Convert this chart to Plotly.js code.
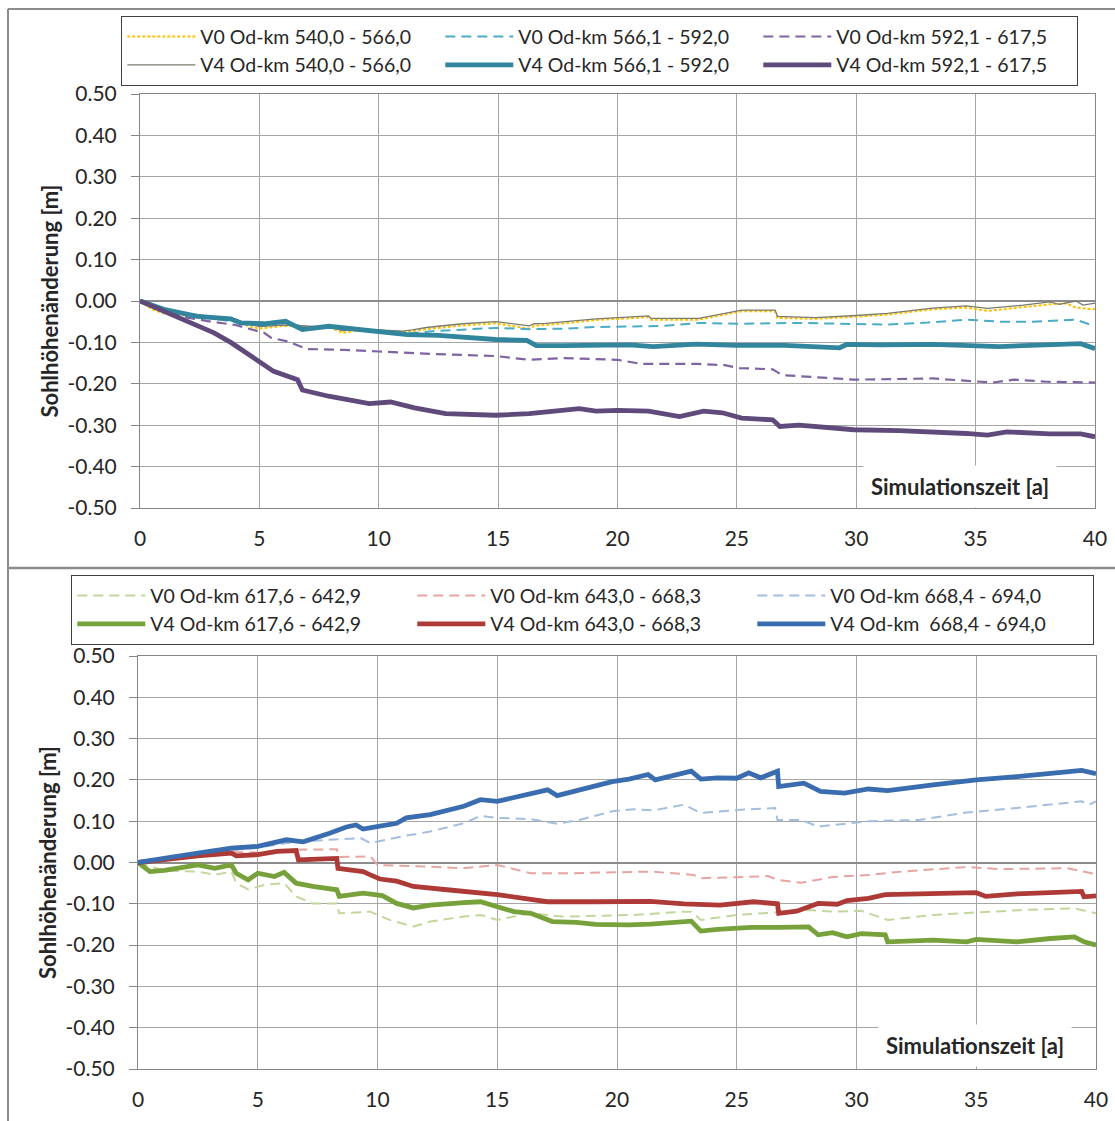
<!DOCTYPE html>
<html>
<head>
<meta charset="utf-8">
<script src="https://cdn.plot.ly/plotly-3.0.1.min.js"></script>
<style>html,body{margin:0;padding:0;background:#fff;}#chart{width:1115px;height:1121px;}</style>
</head>
<body>
<div id="chart"></div>
<script>
// ---------- Tick labels ----------
const xTickVals = [0, 5, 10, 15, 20, 25, 30, 35, 40];
const xTickText = ['0', '5', '10', '15', '20', '25', '30', '35', '40'];
const yTickVals = [-0.5, -0.4, -0.3, -0.2, -0.1, 0, 0.1, 0.2, 0.3, 0.4, 0.5];
const yTickText = ['-0.50', '-0.40', '-0.30', '-0.20', '-0.10', '0.00', '0.10', '0.20', '0.30', '0.40', '0.50'];

// ---------- Series names ----------
const namesTop = ['V0 Od-km 540,0 - 566,0', 'V0 Od-km 566,1 - 592,0', 'V0 Od-km 592,1 - 617,5',
                  'V4 Od-km 540,0 - 566,0', 'V4 Od-km 566,1 - 592,0', 'V4 Od-km 592,1 - 617,5'];
const namesBottom = ['V0 Od-km 617,6 - 642,9', 'V0 Od-km 643,0 - 668,3', 'V0 Od-km 668,4 - 694,0',
                     'V4 Od-km 617,6 - 642,9', 'V4 Od-km 643,0 - 668,3', 'V4 Od-km  668,4 - 694,0'];

// ---------- Top chart data (time [a], change [m]) ----------
const t_v0_540 = [0,0.5,1,2,3,4,4.5,5,6,7,8,8.5,9,10,11,11.4,12,13,13.5,14.9,16.3,16.5,17,19.1,20.5,21.3,21.4,23.4,25.2,26.6,26.7,28.3,30,31.3,33.2,34.6,35.5,37,38.1,38.8,39.2,40];
const v_v0_540 = [0,-0.02,-0.03,-0.035,-0.04,-0.045,-0.06,-0.067,-0.06,-0.062,-0.065,-0.077,-0.072,-0.072,-0.075,-0.073,-0.068,-0.062,-0.059,-0.054,-0.067,-0.06,-0.058,-0.046,-0.041,-0.039,-0.045,-0.045,-0.025,-0.025,-0.041,-0.043,-0.038,-0.033,-0.02,-0.016,-0.024,-0.015,-0.008,-0.006,-0.016,-0.02];

const t_v0_566 = [0,1,2,3,4,5,6,7,8,9,10,11.4,12.5,13.5,14.9,16.3,17.7,19,20.5,22,23.4,25,27.6,29,31.3,33,34.6,36,37.4,39.2,39.8,40];
const v_v0_566 = [0,-0.02,-0.035,-0.042,-0.05,-0.055,-0.052,-0.063,-0.062,-0.068,-0.072,-0.077,-0.072,-0.069,-0.065,-0.068,-0.067,-0.063,-0.061,-0.06,-0.053,-0.055,-0.053,-0.055,-0.057,-0.052,-0.045,-0.05,-0.05,-0.045,-0.057,-0.055];

const t_v0_592 = [0,1,2,3,4,4.7,5.2,5.5,6.2,7,8.5,10,12.2,14.9,16.3,17.7,20,21,23.4,24.5,25.1,26.5,26.9,28.3,29.9,33.2,35.7,36.6,38,40];
const v_v0_592 = [0,-0.025,-0.04,-0.05,-0.058,-0.069,-0.077,-0.089,-0.098,-0.116,-0.118,-0.122,-0.128,-0.133,-0.142,-0.138,-0.142,-0.152,-0.152,-0.155,-0.162,-0.165,-0.179,-0.184,-0.19,-0.187,-0.197,-0.19,-0.195,-0.197];

const t_v4_540 = [0,0.5,1,2,3,4,4.5,5,6,7,8,8.5,9,10,11,11.4,12,13,13.5,14.9,16.3,16.5,17,19.1,20.5,21.3,21.4,23.4,25.2,26.6,26.7,28.3,30,31.3,33.2,34.6,35.5,37,38.1,38.5,39.2,39.5,40];
const v_v4_540 = [0,-0.015,-0.025,-0.03,-0.037,-0.043,-0.055,-0.062,-0.058,-0.06,-0.063,-0.072,-0.068,-0.07,-0.073,-0.07,-0.064,-0.058,-0.055,-0.05,-0.06,-0.055,-0.054,-0.043,-0.038,-0.036,-0.042,-0.042,-0.022,-0.022,-0.037,-0.04,-0.035,-0.03,-0.017,-0.012,-0.018,-0.01,-0.002,-0.008,0.0,-0.01,-0.005];

const t_v4_566 = [0,1,2.4,3.8,4.2,5.2,6.1,6.8,7.9,9.3,10,11.2,12.5,13.5,14.9,16.2,16.6,17.7,20.5,21.5,23.3,25,27,29.3,29.6,31,33.2,36,38,39.4,40];
const v_v4_566 = [0,-0.02,-0.037,-0.043,-0.053,-0.055,-0.049,-0.069,-0.061,-0.069,-0.072,-0.081,-0.083,-0.087,-0.093,-0.095,-0.108,-0.108,-0.106,-0.11,-0.104,-0.107,-0.107,-0.113,-0.105,-0.106,-0.105,-0.11,-0.107,-0.103,-0.115];

const t_v4_592 = [0,1,2.1,3.1,3.8,5,5.6,6.6,6.8,7.9,9.6,10.5,11.5,12.8,14.9,16.3,18.4,19.1,20,21.3,22.6,23.6,24.4,25.2,26.5,26.8,27.6,29.9,31.8,34.6,35.5,36.3,38.1,39.4,40];
const v_v4_592 = [0,-0.024,-0.053,-0.077,-0.1,-0.146,-0.17,-0.19,-0.215,-0.23,-0.248,-0.244,-0.258,-0.272,-0.276,-0.272,-0.26,-0.266,-0.264,-0.266,-0.279,-0.266,-0.27,-0.283,-0.287,-0.303,-0.3,-0.311,-0.313,-0.32,-0.324,-0.316,-0.321,-0.321,-0.328];

// ---------- Bottom chart data ----------
const t_v0_617 = [0,1.1,2.5,3.2,3.9,4.1,4.6,5.3,6.1,6.6,7.3,8.3,8.4,9.7,10.5,11.5,12.2,13.6,14.3,15,15.7,16.4,17.7,20.7,22.8,23.1,23.5,25,26.6,28,29,30.2,31.3,33.2,35,37,39.1,40];
const v_v0_617 = [0,-0.02,-0.022,-0.03,-0.022,-0.05,-0.065,-0.054,-0.05,-0.082,-0.099,-0.099,-0.123,-0.119,-0.139,-0.155,-0.143,-0.131,-0.127,-0.139,-0.131,-0.123,-0.131,-0.127,-0.119,-0.119,-0.139,-0.127,-0.121,-0.115,-0.119,-0.117,-0.139,-0.127,-0.121,-0.115,-0.111,-0.123];

const t_v0_643 = [0,1.1,2.5,3.9,5,6.6,8.3,8.4,9.7,10,12.2,13.6,15,16.4,18,20.5,21.4,23.2,23.5,26.3,26.7,27.7,29,30.5,31.9,34.6,36,38.8,39.9,40];
const v_v0_643 = [0,0.01,0.018,0.025,0.024,0.031,0.032,0.013,0.015,-0.006,-0.01,-0.014,-0.006,-0.026,-0.026,-0.024,-0.022,-0.03,-0.038,-0.033,-0.042,-0.049,-0.035,-0.03,-0.022,-0.011,-0.016,-0.014,-0.027,-0.025];

const t_v0_668 = [0,1.1,2.5,3.9,5,6.2,8,9.3,9.7,11,12.2,13.6,14.3,15,16.4,17.5,18.5,19.8,20.7,21.5,22.8,23.5,25,26.6,26.7,27.7,28.4,30.5,32.6,34.6,36.7,38,39.4,39.7,40];
const v_v0_668 = [0,0.01,0.02,0.03,0.036,0.047,0.055,0.059,0.047,0.063,0.075,0.095,0.113,0.108,0.105,0.094,0.104,0.124,0.129,0.126,0.14,0.12,0.127,0.132,0.103,0.103,0.087,0.1,0.103,0.121,0.132,0.14,0.148,0.14,0.148];

const t_v4_617 = [0,0.5,1.1,2.5,3.2,3.9,4.1,4.6,5,5.7,6.1,6.6,7.3,8.3,8.4,9.4,10.2,10.8,11.5,12.2,13.6,14.3,15,15.7,16.4,17.3,18.3,19.1,20.5,21.4,23.1,23.5,24.2,25.6,26.7,28,28.4,29,29.6,30.2,31.2,31.3,33.2,34.6,35,36.7,38.1,39.1,39.5,40];
const v_v4_617 = [0,-0.022,-0.019,-0.006,-0.014,-0.006,-0.026,-0.042,-0.026,-0.034,-0.024,-0.05,-0.058,-0.066,-0.082,-0.074,-0.08,-0.099,-0.11,-0.103,-0.097,-0.095,-0.107,-0.119,-0.123,-0.143,-0.145,-0.15,-0.151,-0.149,-0.142,-0.166,-0.162,-0.157,-0.157,-0.156,-0.175,-0.17,-0.18,-0.172,-0.175,-0.192,-0.188,-0.192,-0.186,-0.192,-0.184,-0.18,-0.192,-0.2];

const t_v4_643 = [0,1.1,2.5,3.9,4.1,5,5.8,6.6,6.7,7.5,8.3,8.35,9.4,9.7,10.1,10.8,11.5,12.9,14.3,15,16.4,17.1,19.1,21.4,22.8,24.3,25.7,26.7,26.75,27.5,28.4,29.2,29.6,30.5,31.2,33.2,35,35.4,36.7,39.4,39.5,40];
const v_v4_643 = [0,0.008,0.016,0.023,0.016,0.019,0.027,0.029,0.006,0.008,0.01,-0.014,-0.022,-0.03,-0.04,-0.045,-0.058,-0.066,-0.073,-0.078,-0.089,-0.095,-0.095,-0.094,-0.1,-0.103,-0.095,-0.1,-0.123,-0.118,-0.099,-0.101,-0.092,-0.087,-0.078,-0.076,-0.073,-0.082,-0.076,-0.07,-0.083,-0.081];

const t_v4_668 = [0,1.1,2.5,3.9,5,6.2,6.9,8,8.7,9.1,9.4,10.1,10.8,11.2,12.2,13.6,14.3,15,16.4,17.1,17.5,19.1,19.8,20.5,21.3,21.6,23.1,23.5,24.2,25,25.5,26,26.7,26.75,27.8,28.5,29.5,30.5,31.3,33.2,35,36.7,38.1,39.4,40];
const v_v4_668 = [0,0.011,0.023,0.035,0.039,0.055,0.05,0.071,0.086,0.091,0.081,0.088,0.095,0.108,0.116,0.136,0.152,0.148,0.168,0.176,0.162,0.184,0.196,0.202,0.213,0.2,0.221,0.202,0.205,0.204,0.217,0.205,0.221,0.184,0.192,0.172,0.168,0.178,0.174,0.188,0.2,0.208,0.217,0.223,0.215];

// ---------- Styling ----------
const FONT = 'Lato, "Open Sans", sans-serif';
const TXT = '#262626';
const GRID = '#a6a6a6';
const AXL = '#868686';

function tr(x, y, name, color, width, dash, xa, ya, legend) {
  return { type: 'scatter', mode: 'lines', x: x, y: y, name: name,
    line: { color: color, width: width, dash: dash },
    xaxis: xa, yaxis: ya, legend: legend, hoverinfo: 'skip' };
}

const data = [
  tr(t_v0_540, v_v0_540, namesTop[0], '#FFC000', 2, '3px,2px', 'x', 'y', 'legend'),
  tr(t_v0_566, v_v0_566, namesTop[1], '#4BACC6', 2, '10px,6px', 'x', 'y', 'legend'),
  tr(t_v0_592, v_v0_592, namesTop[2], '#8064A2', 2.2, '10px,6px', 'x', 'y', 'legend'),
  tr(t_v4_540, v_v4_540, namesTop[3], '#7b7b6c', 1.3, 'solid', 'x', 'y', 'legend'),
  tr(t_v4_566, v_v4_566, namesTop[4], '#31859C', 4.8, 'solid', 'x', 'y', 'legend'),
  tr(t_v4_592, v_v4_592, namesTop[5], '#604A7B', 4.8, 'solid', 'x', 'y', 'legend'),
  tr(t_v0_617, v_v0_617, namesBottom[0], '#C3D69B', 2, '10px,6px', 'x2', 'y2', 'legend2'),
  tr(t_v0_643, v_v0_643, namesBottom[1], '#E6A5A3', 2, '10px,6px', 'x2', 'y2', 'legend2'),
  tr(t_v0_668, v_v0_668, namesBottom[2], '#A5BEDE', 2, '10px,6px', 'x2', 'y2', 'legend2'),
  tr(t_v4_617, v_v4_617, namesBottom[3], '#77A23B', 4.8, 'solid', 'x2', 'y2', 'legend2'),
  tr(t_v4_643, v_v4_643, namesBottom[4], '#AD3A36', 4.8, 'solid', 'x2', 'y2', 'legend2'),
  tr(t_v4_668, v_v4_668, namesBottom[5], '#3A6DAF', 4.8, 'solid', 'x2', 'y2', 'legend2')
];

const W = 1115, H = 1121;
const px = v => v / W;
const py = v => 1 - v / H;

function xax(domain, anchor) {
  return { domain: domain, anchor: anchor, range: [0, 40], tickmode: 'array',
    tickvals: xTickVals, ticktext: xTickText, showgrid: true, gridcolor: GRID, gridwidth: 1,
    showline: true, linecolor: AXL, linewidth: 1, mirror: true, ticks: '', zeroline: false,
    ticklabelstandoff: 12, tickfont: { family: FONT, size: 21, color: TXT }, fixedrange: true };
}
function yax(domain, anchor) {
  return { domain: domain, anchor: anchor, range: [-0.5, 0.5], tickmode: 'array',
    tickvals: yTickVals, ticktext: yTickText, showgrid: true, gridcolor: GRID, gridwidth: 1,
    showline: true, linecolor: AXL, linewidth: 1, mirror: true, ticks: 'outside', ticklen: 8,
    tickcolor: AXL, zeroline: true, zerolinecolor: '#8c8c8c', zerolinewidth: 2,
    ticklabelstandoff: 10,
    tickfont: { family: FONT, size: 21, color: TXT },
    title: { text: 'Sohlhöhenänderung [m]', standoff: 2,
             font: { family: FONT, size: 22, color: TXT, weight: 'bold' } },
    fixedrange: true };
}

const legendCommon = { orientation: 'h', xanchor: 'left', yanchor: 'top', bgcolor: '#ffffff',
  bordercolor: '#404040', borderwidth: 1.3, entrywidthmode: 'pixels', itemwidth: 68,
  tracegroupgap: 0, font: { family: FONT, size: 19.5, color: TXT }, traceorder: 'normal' };

const layout = {
  width: W, height: H,
  margin: { l: 0, r: 0, t: 0, b: 0 },
  paper_bgcolor: '#ffffff', plot_bgcolor: '#ffffff',
  showlegend: true,
  xaxis: xax([px(140), px(1095)], 'y'),
  yaxis: yax([py(508), py(94)], 'x'),
  xaxis2: xax([px(138), px(1096)], 'y2'),
  yaxis2: yax([py(1069), py(656)], 'x2'),
  legend: Object.assign({}, legendCommon, { x: px(121), y: py(16), entrywidth: 235 }),
  legend2: Object.assign({}, legendCommon, { x: px(71), y: py(575), entrywidth: 257 }),
  annotations: [
    { xref: 'paper', yref: 'paper', x: px(960), y: py(486), xanchor: 'center', yanchor: 'middle',
      text: 'Simulationszeit [a]', showarrow: false, bgcolor: '#ffffff', borderpad: 7,
      font: { family: FONT, size: 22, color: TXT, weight: 'bold' } },
    { xref: 'paper', yref: 'paper', x: px(975), y: py(1045), xanchor: 'center', yanchor: 'middle',
      text: 'Simulationszeit [a]', showarrow: false, bgcolor: '#ffffff', borderpad: 7,
      font: { family: FONT, size: 22, color: TXT, weight: 'bold' } }
  ],
  shapes: [
    { type: 'line', xref: 'paper', yref: 'paper', x0: px(8), x1: px(8), y0: py(9), y1: 0,
      line: { color: '#8c8c8c', width: 2 } },
    { type: 'line', xref: 'paper', yref: 'paper', x0: px(8), x1: 1, y0: py(9), y1: py(9),
      line: { color: '#8c8c8c', width: 2 } },
    { type: 'line', xref: 'paper', yref: 'paper', x0: px(8), x1: 1, y0: py(568), y1: py(568),
      line: { color: '#8c8c8c', width: 2.5 } }
  ]
};

Plotly.newPlot('chart', data, layout, { displayModeBar: false, staticPlot: true });
</script>
</body>
</html>
